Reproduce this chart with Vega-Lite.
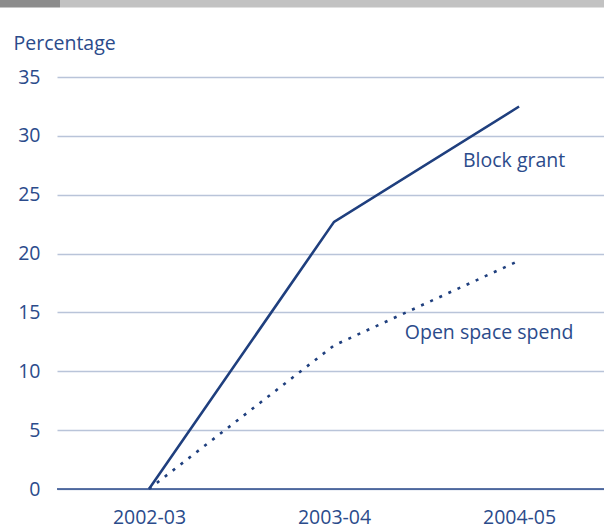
{
  "$schema": "https://vega.github.io/schema/vega-lite/v6.json",
  "autosize": {"type": "none"},
  "padding": {"left": 57, "top": 0, "right": 0, "bottom": 42},
  "width": 547,
  "height": 489,
  "background": "white",
  "config": {
    "view": {"stroke": null},
    "font": "Open Sans",
    "axis": {"labelFont": "Open Sans", "titleFont": "Open Sans"}
  },
  "datasets": {
    "series": [
      {"year": "2002-03", "series": "Block grant", "value": 0},
      {"year": "2003-04", "series": "Block grant", "value": 22.7},
      {"year": "2004-05", "series": "Block grant", "value": 32.5},
      {"year": "2002-03", "series": "Open space spend", "value": 0},
      {"year": "2003-04", "series": "Open space spend", "value": 12.2},
      {"year": "2004-05", "series": "Open space spend", "value": 19.4}
    ],
    "labels": [
      {"year": "2004-05", "label": "Block grant", "value": 27.85},
      {"year": "2004-05", "label": "Open space spend", "value": 13.25}
    ],
    "bar": [
      {"from": -0.1042, "to": 0.0055, "part": "dark"},
      {"from": 0.0055, "to": 1.0, "part": "light"}
    ]
  },
  "resolve": {"scale": {"x": "independent"}},
  "layer": [
    {
      "layer": [
        {
          "data": {"name": "series"},
          "transform": [{"filter": "datum.series === 'Block grant'"}],
          "mark": {"type": "line", "color": "#1f3f7e", "strokeWidth": 2.6},
          "encoding": {
            "x": {
              "field": "year", "type": "ordinal",
              "scale": {"type": "point", "padding": 0.478, "align": 0.52},
              "axis": {
                "title": null, "domain": false, "ticks": false, "grid": false,
                "labelAngle": 0, "labelFontSize": 19.5, "labelColor": "#2b4b8b",
                "labelPadding": 19
              }
            },
            "y": {
              "field": "value", "type": "quantitative",
              "scale": {"domain": [0, 41.55], "nice": false, "zero": true},
              "axis": {
                "values": [0, 5, 10, 15, 20, 25, 30, 35],
                "title": "Percentage", "titleAngle": 0, "titleAlign": "left",
                "titleBaseline": "alphabetic", "titleX": -44, "titleY": 49,
                "titleFontSize": 19.5, "titleFontWeight": "normal", "titleColor": "#2b4b8b",
                "domain": false, "ticks": false,
                "grid": true, "gridColor": "#b9c4d9", "gridWidth": 1.5,
                "labelFontSize": 19.5, "labelColor": "#2b4b8b", "labelPadding": 17
              }
            }
          }
        },
        {
          "data": {"name": "series"},
          "transform": [{"filter": "datum.series === 'Open space spend'"}],
          "mark": {"type": "line", "color": "#1f3f7e", "strokeWidth": 2.6, "strokeDash": [3, 7]},
          "encoding": {
            "x": {"field": "year", "type": "ordinal"},
            "y": {"field": "value", "type": "quantitative"}
          }
        },
        {
          "data": {"values": [{"value": 0}]},
          "mark": {"type": "rule", "color": "#2a4a8a", "strokeWidth": 1.5},
          "encoding": {
            "y": {"field": "value", "type": "quantitative"}
          }
        },
        {
          "data": {"name": "labels"},
          "transform": [{"filter": "datum.label === 'Block grant'"}],
          "mark": {"type": "text", "fontSize": 19.5, "color": "#2b4b8b", "align": "center", "baseline": "middle", "font": "Open Sans", "dx": -5},
          "encoding": {
            "x": {"field": "year", "type": "ordinal"},
            "y": {"field": "value", "type": "quantitative"},
            "text": {"field": "label"}
          }
        },
        {
          "data": {"name": "labels"},
          "transform": [{"filter": "datum.label === 'Open space spend'"}],
          "mark": {"type": "text", "fontSize": 19.5, "color": "#2b4b8b", "align": "center", "baseline": "middle", "font": "Open Sans", "dx": -30},
          "encoding": {
            "x": {"field": "year", "type": "ordinal"},
            "y": {"field": "value", "type": "quantitative"},
            "text": {"field": "label"}
          }
        }
      ]
    },
    {
      "data": {"name": "bar"},
      "mark": {"type": "rect"},
      "encoding": {
        "x": {"field": "from", "type": "quantitative", "scale": {"domain": [0, 1], "nice": false, "zero": false}, "axis": null},
        "x2": {"field": "to"},
        "y": {"datum": 40.91, "type": "quantitative"},
        "y2": {"datum": 41.55},
        "color": {"field": "part", "type": "nominal", "scale": {"domain": ["dark", "light"], "range": ["#8c8c8c", "#c2c2c2"]}, "legend": null}
      }
    }
  ]
}
